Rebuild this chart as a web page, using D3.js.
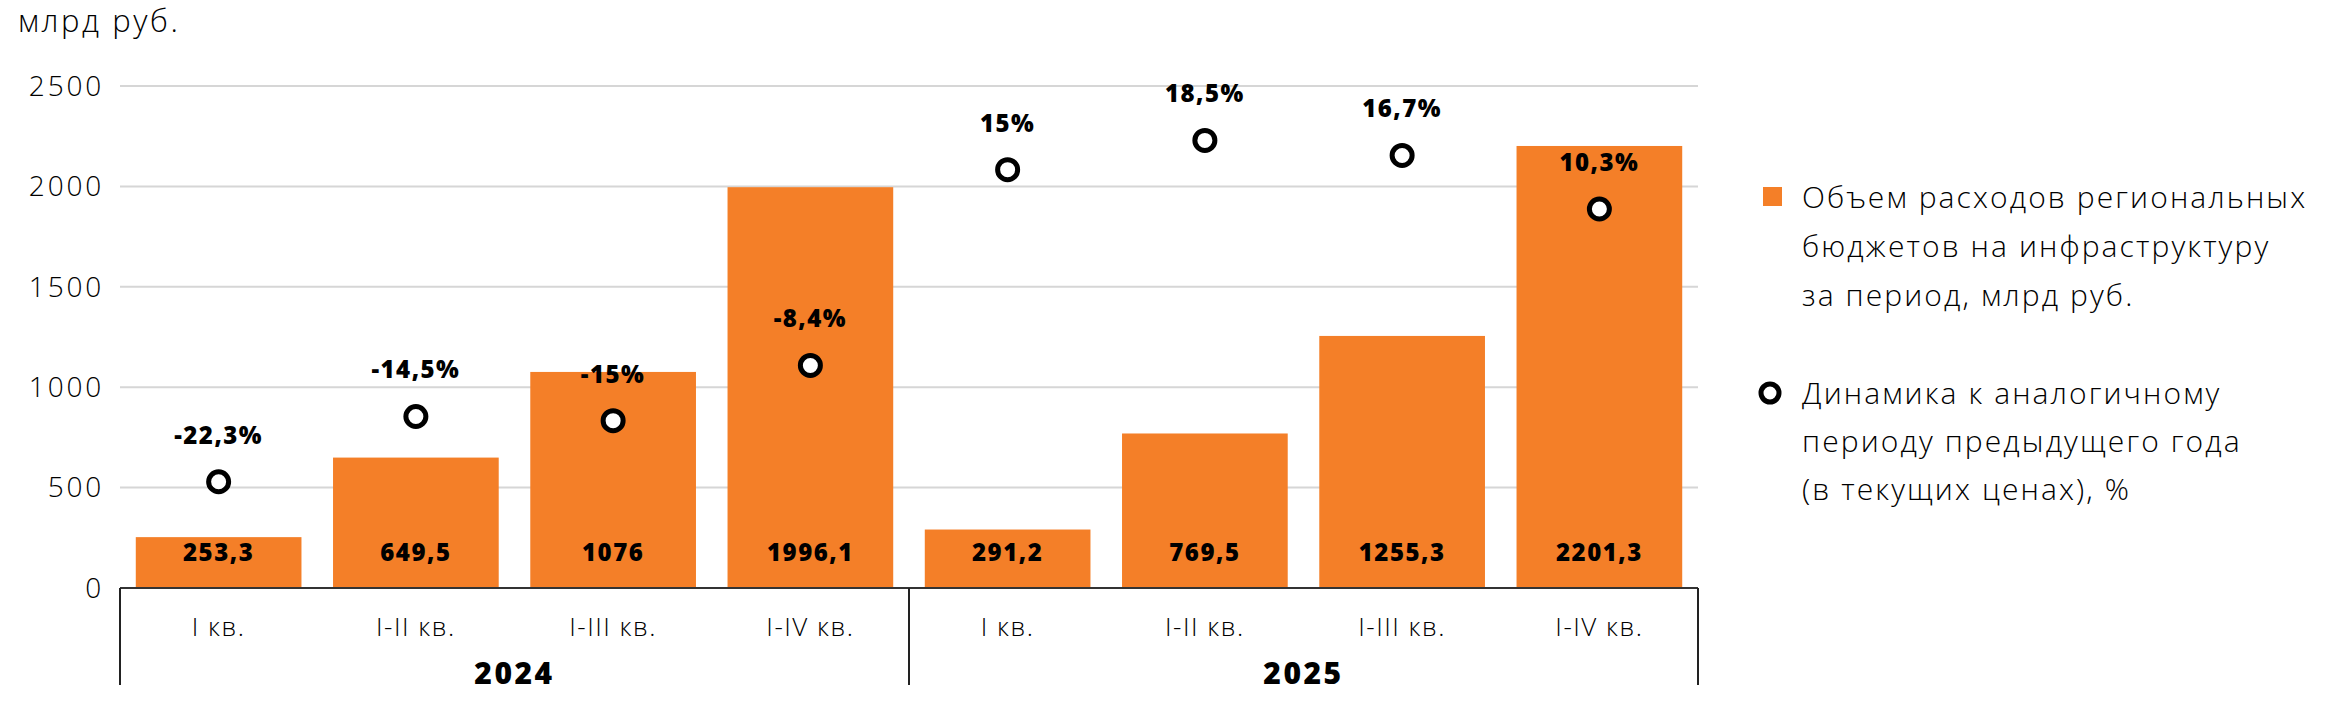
<!DOCTYPE html>
<html>
<head>
<meta charset="utf-8">
<script src="https://cdn.jsdelivr.net/npm/d3@7/dist/d3.min.js"></script>
<style>
  html, body { margin: 0; padding: 0; background: #fff; }
  svg { display: block; }
  .reg { font-family: "Open Sans", "Noto Sans", sans-serif; font-weight: 300; fill: #000; }
  .bold { font-family: "Open Sans", "Noto Sans", sans-serif; font-weight: 800; fill: #000; }
</style>
</head>
<body>
<svg id="chart" width="2334" height="714"></svg>
<script>
// ---- data ----
const categories = ["I кв.", "I-II кв.", "I-III кв.", "I-IV кв.", "I кв.", "I-II кв.", "I-III кв.", "I-IV кв."];
const years = ["2024", "2025"];
const spending = [253.3, 649.5, 1076, 1996.1, 291.2, 769.5, 1255.3, 2201.3];
const spendingLabels = ["253,3", "649,5", "1076", "1996,1", "291,2", "769,5", "1255,3", "2201,3"];
const dynamics = [-22.3, -14.5, -15, -8.4, 15, 18.5, 16.7, 10.3];
const dynamicsLabels = ["-22,3%", "-14,5%", "-15%", "-8,4%", "15%", "18,5%", "16,7%", "10,3%"];
const yTicks = [0, 500, 1000, 1500, 2000, 2500];
const unitLabel = "млрд руб.";
const legendBars = ["Объем расходов региональных", "бюджетов на инфраструктуру", "за период, млрд руб."];
const legendDots = ["Динамика к аналогичному", "периоду предыдущего года", "(в текущих ценах), %"];

// ---- layout ----
const ORANGE = "#F47F28";
const svg = d3.select("#chart");
const plotL = 120, plotR = 1698, plotT = 86, plotB = 588;

const x = d3.scaleBand().domain(d3.range(categories.length)).range([plotL, plotR])
  .paddingInner(0.16).paddingOuter(0.08);
const y = d3.scaleLinear().domain([0, 2500]).range([plotB, plotT]);
const y2 = d3.scaleLinear().domain([-35, 25]).range([plotB, plotT]);

// unit label
svg.append("text").attr("class", "reg").attr("x", 18).attr("y", 32)
  .style("font-size", "31px").style("letter-spacing", "2.6px").text(unitLabel);

// gridlines
svg.append("g").selectAll("line").data(yTicks.filter(d => d > 0)).join("line")
  .attr("x1", plotL).attr("x2", plotR)
  .attr("y1", d => y(d)).attr("y2", d => y(d))
  .attr("stroke", "#d6d6d6").attr("stroke-width", 2);

// y tick labels
svg.append("g").selectAll("text").data(yTicks).join("text")
  .attr("class", "reg").attr("x", 104).attr("y", d => y(d)).attr("dy", "0.35em")
  .attr("text-anchor", "end").style("font-size", "28px").style("letter-spacing", "2.8px")
  .text(d => d);

// bars
svg.append("g").selectAll("rect").data(spending).join("rect")
  .attr("x", (d, i) => x(i)).attr("width", x.bandwidth())
  .attr("y", d => y(d)).attr("height", d => y(0) - y(d))
  .attr("fill", ORANGE);

// bar value labels
svg.append("g").selectAll("text").data(spendingLabels).join("text")
  .attr("class", "bold").attr("x", (d, i) => x(i) + x.bandwidth() / 2).attr("y", y(0) - 27)
  .attr("text-anchor", "middle").style("font-size", "24px").style("letter-spacing", "1.5px")
  .text(d => d);

// axis baseline & year separators
svg.append("line").attr("x1", plotL).attr("x2", plotR).attr("y1", plotB).attr("y2", plotB)
  .attr("stroke", "#333").attr("stroke-width", 2);
svg.append("g").selectAll("line").data([plotL, (x(3) + x.bandwidth() + x(4)) / 2, plotR]).join("line")
  .attr("x1", d => d).attr("x2", d => d).attr("y1", plotB).attr("y2", 685)
  .attr("stroke", "#222").attr("stroke-width", 2);

// category labels
svg.append("g").selectAll("text").data(categories).join("text")
  .attr("class", "reg").attr("x", (d, i) => x(i) + x.bandwidth() / 2).attr("y", 636)
  .attr("text-anchor", "middle").style("font-size", "26px").style("letter-spacing", "1.5px")
  .text(d => d);

// year labels
svg.append("g").selectAll("text").data(years).join("text")
  .attr("class", "bold")
  .attr("x", (d, k) => (x(k * 4 + 1) + x(k * 4 + 2) + x.bandwidth()) / 2)
  .attr("y", 684).attr("text-anchor", "middle").style("font-size", "30px").style("letter-spacing", "2.5px")
  .text(d => d);

// dynamics points
svg.append("g").selectAll("circle").data(dynamics).join("circle")
  .attr("cx", (d, i) => x(i) + x.bandwidth() / 2).attr("cy", d => y2(d)).attr("r", 10)
  .attr("fill", "#fff").attr("stroke", "#000").attr("stroke-width", 5);

svg.append("g").selectAll("text").data(dynamicsLabels).join("text")
  .attr("class", "bold").attr("x", (d, i) => x(i) + x.bandwidth() / 2)
  .attr("y", (d, i) => y2(dynamics[i]) - 38)
  .attr("text-anchor", "middle").style("font-size", "24px").style("letter-spacing", "1.5px")
  .text(d => d);

// legend
const lg = svg.append("g");
lg.append("rect").attr("x", 1763).attr("y", 187).attr("width", 19).attr("height", 19).attr("fill", ORANGE);
lg.selectAll("text.l1").data(legendBars).join("text").attr("class", "reg l1")
  .attr("x", 1802).attr("y", (d, i) => 197 + i * 49).attr("dy", "0.35em")
  .style("font-size", "30px").style("letter-spacing", "2.1px").text(d => d);
lg.append("circle").attr("cx", 1770).attr("cy", 393).attr("r", 9)
  .attr("fill", "#fff").attr("stroke", "#000").attr("stroke-width", 5);
lg.selectAll("text.l2").data(legendDots).join("text").attr("class", "reg l2")
  .attr("x", 1802).attr("y", (d, i) => 393 + i * 48).attr("dy", "0.35em")
  .style("font-size", "30px").style("letter-spacing", "2.1px").text(d => d);
</script>
</body>
</html>
